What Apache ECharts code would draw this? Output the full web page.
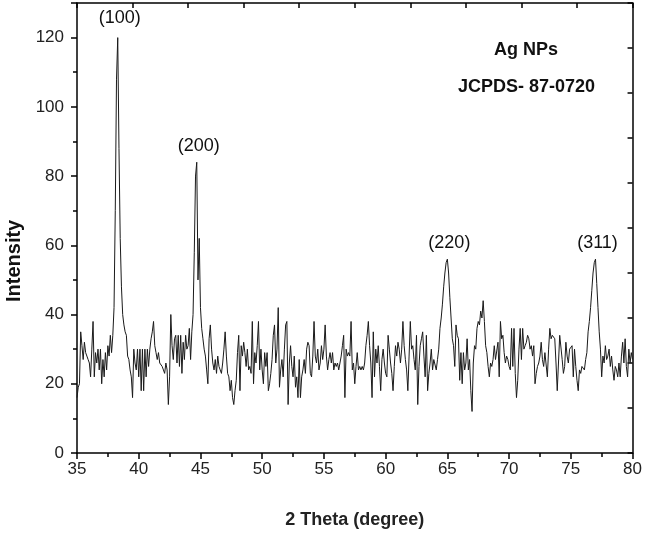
<!DOCTYPE html>
<html><head><meta charset="utf-8">
<script src="https://cdn.jsdelivr.net/npm/echarts@6/dist/echarts.min.js"></script>
<style>html,body{margin:0;padding:0;background:#fff}#c{width:645px;height:534px}</style>
</head><body><div id="c"></div>
<script>
// 2-theta grid: 35.0 .. 80.0 in steps of 0.1 degree
const thetaStart = 35;
const thetaStep = 0.1;

// intensity values, one row = one degree
const intensity35to45 = [
  16,19,20,35,31,27,32,29,28,27,
  26,22,30,38,22,29,26,30,24,30,
  20,27,22,29,24,31,28,34,29,34,
  42,70,108,120,88,62,48,40,37,35,
  34,28,27,24,22,16,30,26,24,30,
  22,30,18,30,18,30,22,30,25,30,
  33,35,38,31,29,27,29,26,26,25,
  25,23,26,24,14,22,40,31,27,33,
  34,26,34,25,34,23,32,27,34,30,
  31,36,27,35,40,58,80,84,50,62
];
const intensity45to55 = [
  42,36,33,30,28,24,20,33,37,30,
  26,24,27,23,28,25,24,23,26,30,
  35,28,23,22,18,21,16,14,18,21,
  29,34,18,31,28,32,29,25,30,24,
  25,23,38,20,29,26,31,38,24,30,
  24,20,29,25,29,18,20,23,27,34,
  37,26,30,42,19,24,27,22,30,37,
  38,14,26,31,25,22,28,19,22,16,
  27,16,22,24,27,23,30,32,31,23,
  22,28,38,28,26,30,24,26,31,27
];
const intensity55to65 = [
  30,37,28,24,27,29,26,29,24,26,
  25,26,24,26,28,31,34,16,30,28,
  29,28,38,24,26,20,25,29,24,25,
  24,25,24,26,31,34,38,31,26,16,
  35,22,30,26,31,25,18,27,30,26,
  23,22,34,30,26,23,18,25,31,28,
  32,30,26,30,38,31,27,24,18,28,
  38,30,31,27,24,34,14,25,31,33,
  35,28,22,34,18,23,26,30,24,27,
  27,24,27,30,36,39,43,48,52,55
];
const intensity65to75 = [
  56,52,45,39,33,31,25,37,34,33,
  21,29,20,29,24,26,33,24,27,18,
  12,26,31,30,36,38,37,41,39,44,
  38,31,29,25,22,26,25,27,31,27,
  27,32,22,38,33,34,29,26,28,27,
  25,24,36,25,36,23,16,21,30,36,
  27,36,30,31,32,34,33,30,31,28,
  31,20,23,25,26,28,32,27,25,29,
  29,22,30,36,33,34,34,33,26,18,
  18,34,34,27,23,25,32,28,26,30
];
const intensity75to80 = [
  30,31,22,30,25,21,18,24,23,25,
  25,24,27,29,35,38,42,47,52,55,
  56,49,42,35,30,22,28,26,31,27,
  28,30,25,28,24,21,25,24,22,26,
  22,28,32,26,33,25,22,30,26,29,
  27
];

const peakLabels = ['(100)', '(200)', '(220)', '(311)'];
const peakTheta = [38.3, 44.7, 65.0, 77.0];
const peakIntensity = [120, 84, 56, 56];

const intensity = [].concat(intensity35to45, intensity45to55, intensity55to65, intensity65to75, intensity75to80);
const twoTheta = intensity.map((_, i) => +(thetaStart + i * thetaStep).toFixed(1));
const seriesData = twoTheta.map((t, i) => [t, intensity[i]]);

const FONT = 'Liberation Sans, Arial, sans-serif';
const chart = echarts.init(document.getElementById('c'), null, {renderer: 'canvas'});
const peakGaps = [11, 7, 7, 7];

chart.setOption({
  animation: false,
  backgroundColor: '#fff',
  grid: {left: 77, right: 11, top: 3, bottom: 79, containLabel: false},
  xAxis: [{
    type: 'value', min: 35, max: 80, interval: 5, position: 'bottom',
    axisLine: {show: true, onZero: false, lineStyle: {color: '#000', width: 1.5}},
    axisTick: {show: true, inside: false, length: 6, lineStyle: {color: '#000', width: 1.5}},
    minorTick: {show: true, splitNumber: 2, length: 4, lineStyle: {color: '#000', width: 1.5}},
    splitLine: {show: false}, minorSplitLine: {show: false},
    axisLabel: {fontSize: 17, color: '#222', margin: 8, fontFamily: FONT},
    name: '2 Theta (degree)', nameLocation: 'middle', nameGap: 58,
    nameTextStyle: {fontSize: 18, fontWeight: 'bold', color: '#222', fontFamily: FONT}
  }, {
    type: 'value', min: 0, max: 45, interval: 4.5, position: 'top',
    axisLine: {show: true, onZero: false, lineStyle: {color: '#000', width: 1.5}},
    axisTick: {show: true, inside: true, length: 5, lineStyle: {color: '#000', width: 1.5}},
    axisLabel: {show: false}, splitLine: {show: false}
  }],
  yAxis: [{
    type: 'value', min: 0, max: 130, interval: 20, position: 'left',
    axisLine: {show: true, onZero: false, lineStyle: {color: '#000', width: 1.5}},
    axisTick: {show: true, inside: false, length: 6, lineStyle: {color: '#000', width: 1.5}},
    minorTick: {show: true, splitNumber: 2, length: 4, lineStyle: {color: '#000', width: 1.5}},
    splitLine: {show: false}, minorSplitLine: {show: false},
    axisLabel: {fontSize: 17, color: '#222', margin: 13, fontFamily: FONT, showMaxLabel: false}
  }, {
    type: 'value', min: 0, max: 130, interval: 13, position: 'right',
    axisLine: {show: true, onZero: false, lineStyle: {color: '#000', width: 1.5}},
    axisTick: {show: true, inside: true, length: 5, lineStyle: {color: '#000', width: 1.5}},
    axisLabel: {show: false}, splitLine: {show: false}
  }],
  graphic: [
    {type: 'text', left: 494, top: 41, style: {text: 'Ag NPs', font: 'bold 18px ' + FONT, fill: '#111'}},
    {type: 'text', left: 458, top: 78, style: {text: 'JCPDS- 87-0720', font: 'bold 18px ' + FONT, fill: '#111'}},
    {type: 'text', x: 4, y: 302, rotation: Math.PI / 2,
     style: {text: 'Intensity', font: 'bold 20px ' + FONT, fill: '#111', align: 'left', verticalAlign: 'top'}}
  ],
  series: [{
    type: 'line', xAxisIndex: 0, yAxisIndex: 0,
    data: seriesData, showSymbol: false, symbol: 'none',
    lineStyle: {width: 1, color: '#1a1a1a'},
    markPoint: {
      symbol: 'circle', symbolSize: 0, silent: true,
      label: {show: true, position: 'top', color: '#111', fontSize: 18, fontFamily: FONT, formatter: p => p.name},
      data: peakLabels.map((n, i) => ({name: n, coord: [peakTheta[i], peakIntensity[i]], label: {distance: peakGaps[i], offset: [2, 0]}}))
    }
  }]
});
</script>
</body></html>
